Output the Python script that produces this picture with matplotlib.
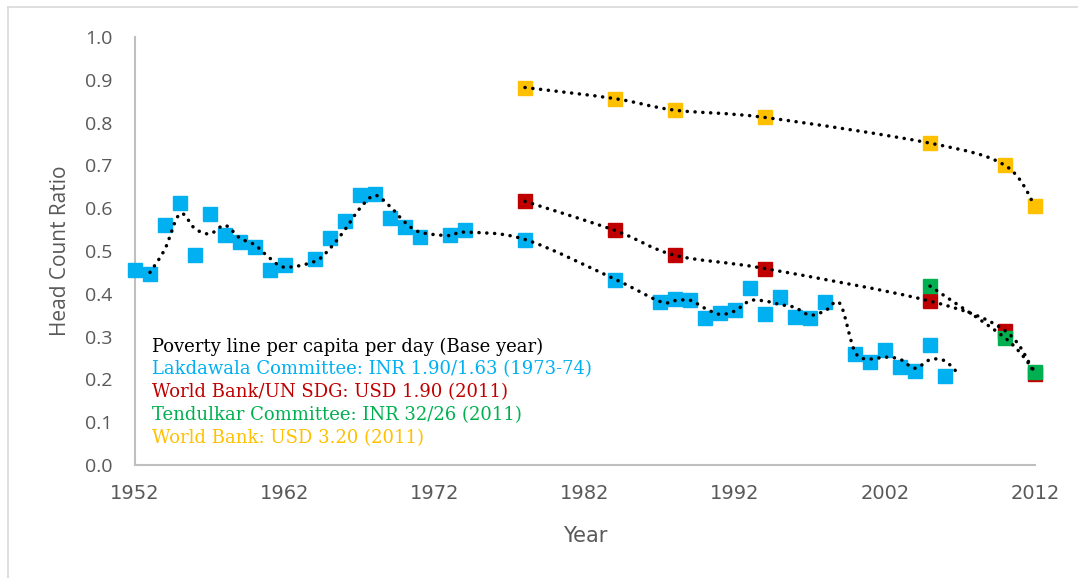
import matplotlib
matplotlib.use("Agg")
import matplotlib.pyplot as plt
from matplotlib.path import Path
from matplotlib.patches import PathPatch
from matplotlib.lines import Line2D

# survey points
lak_years = [1952, 1953, 1954, 1955, 1956, 1957, 1958, 1959, 1960, 1961, 1962,
             1964, 1965, 1966, 1967, 1968, 1969, 1970, 1971, 1973, 1974, 1978,
             1984, 1987, 1988, 1989, 1990, 1991, 1992, 1993, 1994, 1995, 1996,
             1997, 1998, 2000, 2001, 2002, 2003, 2004, 2005, 2006]
lak_vals = [0.456, 0.447, 0.561, 0.612, 0.491, 0.586, 0.537, 0.521, 0.509, 0.456, 0.467,
            0.481, 0.530, 0.570, 0.631, 0.633, 0.577, 0.556, 0.533, 0.538, 0.548, 0.526,
            0.432, 0.381, 0.388, 0.386, 0.343, 0.355, 0.362, 0.414, 0.353, 0.393, 0.346,
            0.343, 0.381, 0.259, 0.241, 0.269, 0.229, 0.220, 0.280, 0.208]

# dotted trend through the Lakdawala points
trend_years = [1953, 1954, 1955, 1956, 1957, 1958, 1959, 1960, 1961, 1962, 1964,
               1965, 1966, 1967, 1968, 1969, 1970, 1971, 1973, 1974, 1978, 1984,
               1987, 1988, 1989, 1990, 1991, 1992, 1993, 1994, 1995, 1996, 1997,
               1998, 1999, 2000, 2001, 2002, 2003, 2004, 2005, 2006, 2007]
trend_vals = [0.450, 0.505, 0.587, 0.552, 0.540, 0.560, 0.530, 0.514, 0.483, 0.462, 0.476,
              0.506, 0.550, 0.600, 0.630, 0.604, 0.567, 0.544, 0.536, 0.544, 0.527, 0.434,
              0.382, 0.384, 0.385, 0.366, 0.352, 0.360, 0.384, 0.383, 0.375, 0.368, 0.350,
              0.360, 0.377, 0.264, 0.248, 0.252, 0.247, 0.226, 0.246, 0.243, 0.209]

wb_years = [1978, 1984, 1988, 1994, 2005, 2010, 2012]
wb190_vals = [0.616, 0.548, 0.490, 0.459, 0.383, 0.314, 0.212]
wb320_vals = [0.882, 0.856, 0.829, 0.812, 0.752, 0.700, 0.605]

tend_years = [2005, 2010, 2012]
tend_vals = [0.418, 0.297, 0.218]

legend_lines = [
    ("Poverty line per capita per day (Base year)", "black"),
    ("Lakdawala Committee: INR 1.90/1.63 (1973-74)", "#00B0F0"),
    ("World Bank/UN SDG: USD 1.90 (2011)", "#C00000"),
    ("Tendulkar Committee: INR 32/26 (2011)", "#00B050"),
    ("World Bank: USD 3.20 (2011)", "#FFC000"),
]

grey = "#595959"


def smooth_path(xs, ys):
    # excel-like smoothed line: cubic bezier, control points from neighbours
    pts = list(zip(xs, ys))
    verts = [pts[0]]
    codes = [Path.MOVETO]
    n = len(pts)
    for i in range(n - 1):
        p0 = pts[i - 1] if i > 0 else pts[i]
        p1 = pts[i]
        p2 = pts[i + 1]
        p3 = pts[i + 2] if i + 2 < n else pts[i + 1]
        c1 = (p1[0] + (p2[0] - p0[0]) / 6, p1[1] + (p2[1] - p0[1]) / 6)
        c2 = (p2[0] - (p3[0] - p1[0]) / 6, p2[1] - (p3[1] - p1[1]) / 6)
        verts += [c1, c2, p2]
        codes += [Path.CURVE4] * 3
    return Path(verts, codes)


fig = plt.figure(figsize=(10.78, 5.78), dpi=100)
ax = fig.add_axes([135 / 1078, 1 - 465 / 578, 900 / 1078, 428 / 578])

ms = 9.5
for xs, ys, col in [(lak_years, lak_vals, "#00B0F0"), (wb_years, wb320_vals, "#FFC000"),
                    (wb_years, wb190_vals, "#C00000"), (tend_years, tend_vals, "#00B050")]:
    ax.plot(xs, ys, ls="none", marker="s", ms=ms, color=col, mec=col, zorder=3, clip_on=False)

for xs, ys in [(trend_years, trend_vals), (wb_years, wb190_vals),
               (wb_years, wb320_vals), (tend_years, tend_vals)]:
    patch = PathPatch(smooth_path(xs, ys), fill=False, edgecolor="black", lw=2.5,
                      ls=(0, (0.05, 2.2)), capstyle="round", zorder=4, clip_on=False)
    ax.add_patch(patch)

ax.set_xlim(1952, 2012)
ax.set_ylim(0, 1.0)
ax.set_xticks(range(1952, 2013, 10))
ax.set_yticks([i / 10 for i in range(11)])
ax.set_yticklabels([f"{i / 10:.1f}" for i in range(11)])

for s in ["top", "right"]:
    ax.spines[s].set_visible(False)
for s in ["left", "bottom"]:
    ax.spines[s].set_color("#BFBFBF")
    ax.spines[s].set_linewidth(1.5)

ax.tick_params(axis="both", length=0, colors=grey)
ax.tick_params(axis="y", pad=16, labelsize=14)
ax.tick_params(axis="x", pad=14, labelsize=14)
for lab in ax.get_yticklabels():
    lab.set_family(["Open Sans", "DejaVu Sans"])
for lab in ax.get_xticklabels():
    lab.set_family(["Liberation Sans Narrow", "DejaVu Sans"])

ax.set_xlabel("Year", fontsize=15, color=grey, labelpad=16,
              family=["Liberation Sans Narrow", "DejaVu Sans"])
ax.set_ylabel("Head Count Ratio", fontsize=15, color=grey, labelpad=10,
              family=["Open Sans", "DejaVu Sans"])

for i, (txt, col) in enumerate(legend_lines):
    ax.text(1953.1, 0.277 - i * 0.0535, txt, color=col, fontsize=13,
            family=["DejaVu Serif"], va="center", ha="left")

# chart area border (top and left visible)
fig.add_artist(Line2D([8 / 1078, 8 / 1078], [0, 1 - 7 / 578], color="#D9D9D9", lw=1.2))
fig.add_artist(Line2D([8 / 1078, 1], [1 - 7 / 578, 1 - 7 / 578], color="#D9D9D9", lw=1.2))

fig.savefig("out.png", dpi=100)
